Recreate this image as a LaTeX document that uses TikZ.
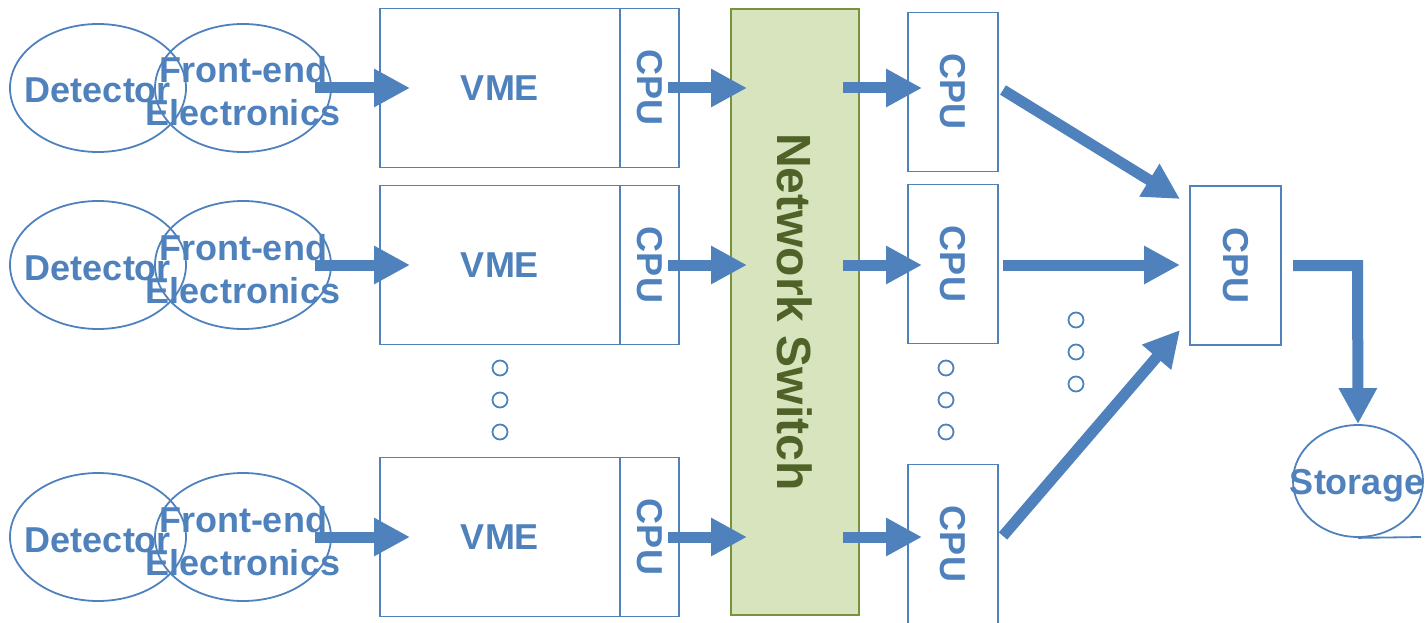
\documentclass[tikz,border=0pt]{standalone}
\usepackage{fontspec}
\setmainfont{Liberation Sans}
\usetikzlibrary{arrows.meta,shapes.geometric}
\definecolor{myblue}{HTML}{4F81BD}
\definecolor{swfill}{HTML}{D7E4BD}
\definecolor{swdraw}{HTML}{77933C}
\definecolor{swtext}{HTML}{4F6228}
\begin{document}
\begin{tikzpicture}[x=1pt,y=-1pt,
  lbl/.style={text=myblue,font=\fontsize{36}{43}\selectfont\bfseries,inner sep=0pt},
  oval/.style={draw=myblue,line width=1.8pt,ellipse,minimum width=176pt,minimum height=128pt,inner sep=0pt},
  box/.style={draw=myblue,line width=1.8pt,rectangle,inner sep=0pt,text=myblue,font=\fontsize{36}{43}\selectfont\bfseries},
  vbox/.style={box,rotate=-90},
  arr/.style={draw=myblue,line width=11pt,-{Triangle[width=36pt,length=36pt]}},
  dot/.style={draw=myblue,line width=1.8pt,circle,minimum size=15pt,inner sep=0pt}]
\path[use as bounding box] (0,0) rectangle (1427,623);

% network switch
\node[draw=swdraw,fill=swfill,line width=1.8pt,minimum width=128pt,minimum height=606pt,inner sep=0pt] (sw) at (795,312) {};
\node[rotate=-90,text=swtext,font=\fontsize{48}{54}\selectfont\bfseries,inner sep=0pt] (swt) at (795,312) {Network Switch};

% rows
\foreach \i/\y/\cy in {1/88/92, 2/265/264, 3/537/544} {
  \node[oval] (det\i) at (98,\y) {};
  \node[oval] (fe\i) at (243,\y) {};
  \node[lbl,anchor=base] (dett\i) at (98,\y+15) {Detector};
  \node[lbl,anchor=base] (fet\i) at (243,\y-5) {Front-end};
  \node[lbl,anchor=base] (elt\i) at (243,\y+38) {Electronics};
  \node[box,minimum width=240pt,minimum height=159pt] (vme\i) at (500,\y) {VME};
  \node[vbox,minimum width=159pt,minimum height=59pt] (cpua\i) at (649.5,\y) {CPU};
  \node[vbox,minimum width=159pt,minimum height=90pt] (cpub\i) at (953,\cy) {CPU};
  \coordinate (s1\i) at (315,\y);
  \coordinate (e1\i) at (410,\y);
  \coordinate (s2\i) at (668,\y);
  \coordinate (e2\i) at (747,\y);
  \coordinate (s3\i) at (843,\y);
  \coordinate (e3\i) at (922,\y);
  \draw[arr] (s1\i) -- (e1\i);
  \draw[arr] (s2\i) -- (e2\i);
  \draw[arr] (s3\i) -- (e3\i);
}

% final CPU
\node[vbox,minimum width=159pt,minimum height=91pt] (cpuf) at (1235.5,265.5) {CPU};
\coordinate (d1s) at (1003,90);
\coordinate (d1e) at (1180,199);
\coordinate (d2s) at (1003,265);
\coordinate (d2e) at (1180,265);
\coordinate (d3s) at (1003,536);
\coordinate (d3e) at (1180,330);
\draw[arr] (d1s) -- (d1e);
\draw[arr] (d2s) -- (d2e);
\draw[arr] (d3s) -- (d3e);

% storage
\node[draw=myblue,line width=1.8pt,ellipse,minimum width=130pt,minimum height=112pt,inner sep=0pt] (stor) at (1358,481) {};
\node[lbl] (stort) at (1357,486) {Storage};
\coordinate (tape) at (1421,537);
\draw[myblue,line width=1.8pt] (stor.south) -- (tape);
\coordinate (ob) at (1357.5,265.5);
\draw[arr,line join=miter] (1293,265.5) coordinate (os) -- (ob) -- (stor.north);

% dots
\foreach \y [count=\k] in {368,400,432} {
  \node[dot] (dv\k) at (500,\y) {};
  \node[dot] (dc\k) at (946,\y) {};
}
\foreach \y [count=\k] in {320,352,384} {
  \node[dot] (dd\k) at (1076,\y) {};
}
\end{tikzpicture}
\end{document}
